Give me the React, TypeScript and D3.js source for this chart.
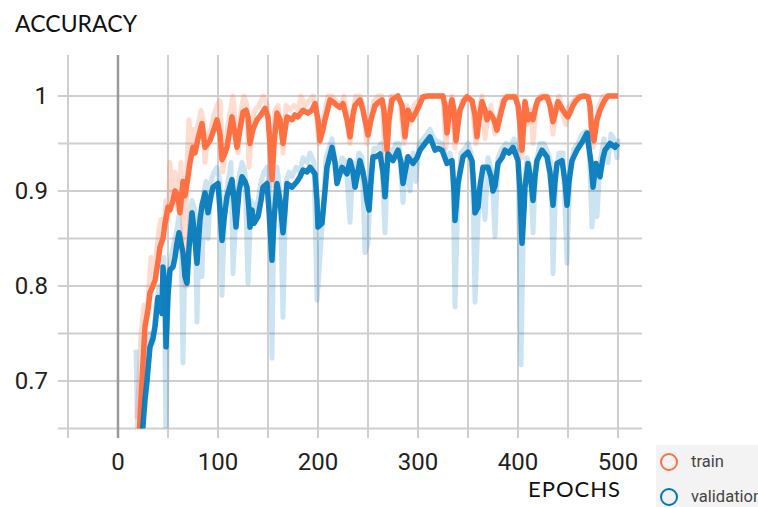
import * as d3 from "d3";
import React from "react";

// accuracy vs epoch, [epoch, value]
const trainSmooth: [number, number][] = [
  [21, 0.64], [24, 0.7], [27, 0.757], [30, 0.775], [32, 0.793], [35, 0.8], [37, 0.806], [40, 0.825],
  [42, 0.841], [45, 0.85], [47, 0.866], [50, 0.883], [52, 0.88], [55, 0.89], [57, 0.9], [60, 0.895],
  [62, 0.877], [65, 0.91], [67, 0.895], [70, 0.915], [72, 0.93], [75, 0.946], [77, 0.94], [80, 0.955],
  [84, 0.971], [87, 0.946], [90, 0.95], [92, 0.953], [96, 0.965], [99, 0.975], [102, 0.96], [104, 0.933],
  [107, 0.94], [109, 0.946], [112, 0.965], [114, 0.978], [117, 0.96], [119, 0.946], [122, 0.965],
  [125, 0.983], [128, 0.985], [130, 0.978], [132, 0.95], [135, 0.965], [139, 0.975], [143, 0.98],
  [147, 0.987], [150, 0.978], [152, 0.95], [154, 0.912], [156, 0.95], [159, 0.982], [162, 0.975],
  [165, 0.95], [169, 0.978], [174, 0.975], [177, 0.98], [180, 0.978], [185, 0.985], [190, 0.982],
  [194, 0.985], [197, 0.992], [200, 0.975], [202, 0.953], [205, 0.965], [207, 0.975], [212, 0.996],
  [216, 0.993], [219, 0.99], [222, 0.988], [225, 0.992], [229, 0.975], [232, 0.957], [235, 0.98],
  [237, 0.99], [242, 0.996], [245, 0.985], [248, 0.97], [250, 0.959], [253, 0.975], [257, 0.99],
  [260, 0.993], [264, 0.996], [266, 0.985], [269, 0.943], [271, 0.975], [274, 0.996], [280, 1.0],
  [284, 0.99], [287, 0.957], [290, 0.985], [294, 0.975], [299, 0.985], [305, 0.999], [310, 1.0],
  [318, 1.0], [325, 1.0], [327, 0.99], [329, 0.961], [331, 0.98], [334, 0.996], [336, 0.985],
  [338, 0.953], [340, 0.97], [342, 0.985], [346, 0.995], [349, 0.999], [354, 0.995], [357, 0.98],
  [359, 0.957], [361, 0.975], [364, 0.994], [367, 0.985], [369, 0.975], [372, 0.982], [376, 0.975],
  [379, 0.964], [382, 0.978], [386, 0.995], [389, 0.999], [397, 0.999], [400, 0.99], [402, 0.97],
  [404, 0.943], [406, 0.975], [407, 0.994], [410, 0.975], [413, 0.98], [415, 0.975], [418, 0.99],
  [420, 0.996], [425, 0.999], [429, 0.999], [432, 0.99], [435, 0.973], [438, 0.985], [440, 0.994],
  [445, 0.985], [448, 0.98], [450, 0.978], [453, 0.985], [455, 0.99], [458, 0.995], [462, 0.999],
  [466, 1.0], [470, 0.999], [472, 0.99], [474, 0.96], [476, 0.953], [479, 0.975], [482, 0.985],
  [484, 0.99], [487, 0.996], [490, 1.0], [500, 1.0],
];

const trainRaw: [number, number][] = [
  [19, 0.66], [21, 0.7], [23, 0.75], [26, 0.78], [29, 0.77], [31, 0.8], [33, 0.83], [36, 0.815],
  [39, 0.84], [41, 0.86], [43, 0.87], [46, 0.86], [48, 0.89], [50, 0.87], [52, 0.93], [54, 0.9],
  [57, 0.92], [60, 0.88], [63, 0.93], [65, 0.86], [67, 0.8], [69, 0.93], [71, 0.975], [73, 0.95],
  [76, 0.965], [78, 0.95], [80, 0.97], [83, 0.985], [85, 0.975], [87, 0.93], [90, 0.96], [93, 0.965],
  [96, 0.98], [99, 0.99], [102, 0.995], [105, 0.92], [108, 0.955], [111, 0.975], [115, 1.0],
  [118, 0.96], [120, 0.94], [123, 0.985], [126, 1.0], [129, 0.99], [131, 0.925], [134, 0.975],
  [137, 0.985], [141, 0.99], [145, 1.0], [149, 0.99], [151, 0.96], [154, 0.905], [157, 0.985],
  [160, 0.99], [163, 0.97], [165, 0.94], [168, 0.99], [172, 0.985], [176, 0.99], [180, 0.985],
  [183, 1.0], [187, 0.99], [191, 0.995], [195, 1.0], [198, 0.985], [201, 0.95], [204, 0.97],
  [207, 0.985], [210, 1.0], [214, 1.0], [218, 0.995], [222, 0.99], [226, 1.0], [229, 0.98],
  [232, 0.95], [235, 0.985], [238, 1.0], [242, 1.0], [245, 0.99], [249, 0.95], [252, 0.97],
  [256, 0.995], [260, 1.0], [264, 1.0], [267, 0.935], [270, 0.97], [273, 1.0], [278, 1.0],
  [282, 0.995], [286, 0.95], [289, 0.99], [292, 0.97], [296, 0.99], [300, 0.995], [305, 1.0],
  [325, 1.0], [328, 0.945], [331, 0.99], [334, 1.0], [337, 0.945], [340, 0.975], [344, 0.995],
  [349, 1.0], [354, 0.995], [358, 0.95], [361, 0.985], [364, 1.0], [367, 0.955], [370, 0.98],
  [373, 0.99], [377, 0.96], [380, 0.975], [384, 0.995], [388, 1.0], [398, 1.0], [401, 0.985],
  [404, 0.935], [407, 0.995], [410, 0.97], [413, 0.985], [415, 0.95], [418, 0.99], [422, 1.0],
  [430, 1.0], [433, 0.985], [435, 0.96], [438, 0.99], [441, 1.0], [445, 0.98], [448, 0.97],
  [451, 0.99], [455, 0.995], [460, 1.0], [471, 1.0], [473, 0.96], [475, 0.946], [478, 0.97],
  [481, 0.99], [485, 1.0], [500, 1.0],
];

const valSmooth: [number, number][] = [
  [24, 0.64], [27, 0.68], [29, 0.7], [32, 0.736], [35, 0.745], [37, 0.757], [40, 0.788], [42, 0.78],
  [44, 0.771], [45, 0.82], [47, 0.8], [48, 0.736], [50, 0.79], [52, 0.817], [55, 0.82], [57, 0.83],
  [59, 0.845], [61, 0.856], [63, 0.845], [65, 0.835], [67, 0.81], [69, 0.803], [71, 0.84], [74, 0.877],
  [76, 0.86], [79, 0.824], [82, 0.87], [84, 0.885], [87, 0.898], [90, 0.877], [93, 0.895], [95, 0.904],
  [100, 0.908], [102, 0.88], [104, 0.848], [106, 0.87], [109, 0.894], [112, 0.905], [114, 0.912],
  [116, 0.89], [118, 0.862], [121, 0.9], [124, 0.915], [127, 0.91], [129, 0.904], [131, 0.88],
  [132, 0.862], [134, 0.88], [136, 0.866], [140, 0.873], [143, 0.89], [145, 0.904], [149, 0.908],
  [151, 0.88], [154, 0.827], [156, 0.87], [159, 0.908], [162, 0.89], [165, 0.856], [167, 0.88],
  [169, 0.908], [174, 0.904], [179, 0.91], [182, 0.915], [185, 0.922], [189, 0.92], [192, 0.925],
  [197, 0.918], [199, 0.89], [200, 0.862], [204, 0.866], [207, 0.9], [209, 0.925], [214, 0.946],
  [217, 0.93], [219, 0.908], [221, 0.915], [224, 0.925], [229, 0.918], [232, 0.932], [235, 0.92],
  [237, 0.904], [240, 0.92], [242, 0.932], [245, 0.92], [247, 0.908], [249, 0.89], [251, 0.88],
  [253, 0.91], [255, 0.936], [258, 0.936], [262, 0.939], [265, 0.92], [267, 0.894], [270, 0.939],
  [275, 0.932], [280, 0.943], [283, 0.93], [285, 0.908], [288, 0.925], [290, 0.936], [295, 0.929],
  [299, 0.935], [302, 0.943], [307, 0.95], [312, 0.957], [317, 0.943], [320, 0.945], [324, 0.943],
  [329, 0.929], [334, 0.932], [336, 0.9], [337, 0.869], [340, 0.908], [345, 0.936], [350, 0.941],
  [354, 0.932], [356, 0.9], [357, 0.877], [360, 0.883], [362, 0.905], [365, 0.925], [370, 0.925],
  [373, 0.915], [375, 0.9], [377, 0.905], [380, 0.929], [384, 0.935], [387, 0.943], [391, 0.94],
  [395, 0.946], [400, 0.932], [402, 0.9], [404, 0.845], [406, 0.88], [407, 0.904], [410, 0.929],
  [413, 0.91], [415, 0.89], [417, 0.915], [419, 0.932], [424, 0.943], [429, 0.936], [432, 0.919],
  [435, 0.885], [437, 0.91], [439, 0.929], [444, 0.932], [447, 0.91], [449, 0.885], [451, 0.91],
  [454, 0.932], [459, 0.943], [465, 0.953], [469, 0.961], [471, 0.945], [473, 0.93], [475, 0.904],
  [478, 0.929], [482, 0.915], [485, 0.935], [487, 0.943], [492, 0.95], [497, 0.946], [500, 0.95],
];

const valRaw: [number, number][] = [
  [18, 0.733], [20, 0.62], [26, 0.7], [29, 0.73], [32, 0.75], [35, 0.74], [38, 0.78], [41, 0.8],
  [44, 0.79], [46, 0.83], [48, 0.63], [50, 0.8], [53, 0.83], [56, 0.845], [59, 0.86], [61, 0.875],
  [63, 0.85], [65, 0.719], [67, 0.83], [69, 0.8], [72, 0.87], [74, 0.89], [77, 0.88], [79, 0.762],
  [81, 0.86], [84, 0.81], [86, 0.9], [88, 0.91], [90, 0.85], [93, 0.91], [96, 0.92], [99, 0.925],
  [102, 0.91], [104, 0.79], [107, 0.89], [110, 0.91], [113, 0.93], [115, 0.813], [118, 0.88],
  [121, 0.915], [124, 0.93], [127, 0.92], [130, 0.803], [133, 0.89], [136, 0.88], [140, 0.89],
  [143, 0.91], [146, 0.92], [149, 0.925], [152, 0.9], [154, 0.724], [156, 0.88], [159, 0.925],
  [162, 0.9], [165, 0.767], [168, 0.91], [171, 0.92], [174, 0.915], [178, 0.925], [182, 0.92],
  [185, 0.935], [189, 0.93], [192, 0.94], [196, 0.93], [199, 0.785], [202, 0.83], [205, 0.88],
  [208, 0.935], [211, 0.945], [214, 0.955], [218, 0.925], [221, 0.92], [224, 0.935], [228, 0.93],
  [232, 0.867], [235, 0.93], [238, 0.92], [241, 0.94], [244, 0.935], [247, 0.835], [250, 0.845],
  [253, 0.92], [256, 0.945], [260, 0.945], [263, 0.95], [267, 0.856], [270, 0.945], [274, 0.94],
  [278, 0.95], [281, 0.95], [285, 0.888], [288, 0.935], [292, 0.9], [295, 0.94], [298, 0.91],
  [301, 0.95], [305, 0.955], [309, 0.96], [312, 0.965], [316, 0.955], [320, 0.952], [324, 0.95],
  [328, 0.935], [332, 0.94], [335, 0.92], [337, 0.778], [340, 0.9], [343, 0.94], [347, 0.945],
  [350, 0.95], [353, 0.94], [355, 0.9], [357, 0.783], [360, 0.87], [363, 0.91], [367, 0.87],
  [370, 0.935], [374, 0.92], [377, 0.852], [380, 0.935], [384, 0.945], [388, 0.95], [392, 0.945],
  [396, 0.955], [400, 0.94], [403, 0.717], [406, 0.9], [409, 0.935], [412, 0.925], [415, 0.856],
  [418, 0.93], [422, 0.95], [426, 0.95], [430, 0.94], [433, 0.93], [435, 0.813], [438, 0.92],
  [441, 0.94], [445, 0.94], [449, 0.824], [452, 0.92], [456, 0.945], [460, 0.95], [464, 0.96],
  [468, 0.963], [471, 0.95], [474, 0.862], [477, 0.91], [479, 0.873], [482, 0.93], [486, 0.955],
  [490, 0.93], [493, 0.96], [496, 0.955], [499, 0.935], [500, 0.955],
];

const xTicks = [0, 100, 200, 300, 400, 500];
const yTicks = [0.7, 0.8, 0.9, 1];
const xGrid = d3.range(-50, 501, 50);
const yGrid = d3.range(0.65, 1.001, 0.05);
const legendItems = [
  { name: "train", color: "#ff7043" },
  { name: "validation", color: "#0077bb" },
];

const x = d3.scaleLinear().domain([0, 500]).range([118, 618]);
const y = d3.scaleLinear().domain([0.65, 1]).range([428.5, 96]);
const line = d3
  .line<[number, number]>()
  .x((d) => x(d[0]))
  .y((d) => y(d[1]));

const plotTop = 55;
const plotLeft = 58;
const plotRight = 642;

export default function App() {
  return (
    <svg width={758} height={507} style={{ position: "absolute", left: 0, top: 0 }}>
      <defs>
        <clipPath id="plot">
          <rect x={plotLeft} y={plotTop} width={plotRight - plotLeft} height={y(0.65) - plotTop} />
        </clipPath>
      </defs>
      <text x={15} y={32} fontFamily="Lato, 'Open Sans', sans-serif" fontSize={23} textLength={122} fill="#111">
        ACCURACY
      </text>

      {/* grid */}
      {yGrid.map((v) => (
        <line key={"h" + v} x1={plotLeft} x2={plotRight} y1={y(v)} y2={y(v)} stroke="#cfcfcf" strokeWidth={2} />
      ))}
      {xGrid.map((e) => (
        <line
          key={"v" + e}
          x1={x(e)}
          x2={x(e)}
          y1={plotTop}
          y2={438}
          stroke={e === 0 ? "#9a9a9a" : "#cfcfcf"}
          strokeWidth={e === 0 ? 2.5 : 2}
        />
      ))}

      {yTicks.map((v) => (
        <text key={"yt" + v} x={48} y={y(v) + 8} textAnchor="end" fontFamily="Roboto, sans-serif" fontSize={24} fill="#222">
          {v === 1 ? "1" : v.toFixed(1)}
        </text>
      ))}
      {xTicks.map((e) => (
        <text key={"xt" + e} x={x(e)} y={470} textAnchor="middle" fontFamily="Roboto, sans-serif" fontSize={24} fill="#222">
          {e}
        </text>
      ))}

      <g clipPath="url(#plot)" fill="none" strokeLinejoin="round">
        <path d={line(valRaw) ?? ""} stroke="#0077bb" strokeOpacity={0.2} strokeWidth={5} />
        <path d={line(trainRaw) ?? ""} stroke="#ff7043" strokeOpacity={0.25} strokeWidth={5} />
        <path d={line(trainSmooth) ?? ""} stroke="#ff7043" strokeWidth={5.5} />
        <path d={line(valSmooth) ?? ""} stroke="#0077bb" strokeOpacity={0.92} strokeWidth={5.5} />
      </g>

      <text x={528} y={497} fontFamily="Lato, 'Open Sans', sans-serif" fontSize={22} textLength={92} fill="#111">
        EPOCHS
      </text>

      <rect x={656} y={445} width={102} height={62} fill="#f3f3f3" />
      {legendItems.map((d, i) => (
        <g key={d.name}>
          <circle cx={669} cy={462 + i * 35} r={8} fill="none" stroke={d.color} strokeWidth={2} />
          <text x={691} y={467 + i * 35} fontFamily="Roboto, sans-serif" fontSize={16.5} fill="#444">
            {d.name}
          </text>
        </g>
      ))}
    </svg>
  );
}
